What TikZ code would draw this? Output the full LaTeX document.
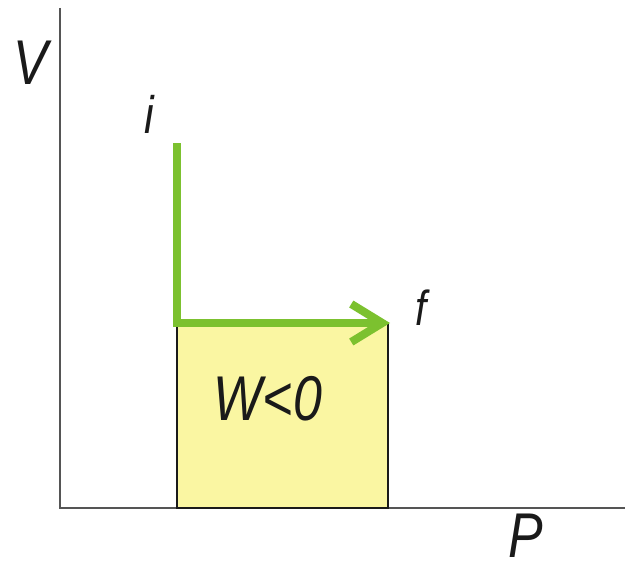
\documentclass[tikz,border=0pt]{standalone}
\usepackage{fontspec}
\setmainfont{Liberation Sans}
\newfontfamily\narrowsf[FakeStretch=0.82]{Liberation Sans}
\usetikzlibrary{positioning,arrows.meta}
\definecolor{path}{HTML}{7CC12F}
\definecolor{work}{HTML}{FAF6A2}
\definecolor{ink}{HTML}{1A1A1A}
\definecolor{axis}{HTML}{555555}
\begin{document}
\begin{tikzpicture}[x=0.02cm,y=0.02cm,font=\narrowsf\itshape]
      \useasboundingbox (0,0) rectangle (625,569);
      % axes
      \coordinate (O) at (60,61);
      \coordinate (Vtop) at (60,561);
      \coordinate (Pend) at (625,61);
      \draw[draw=axis,line width=1.1pt] (Vtop) -- (O) -- (Pend);
      % states
      \coordinate (i) at (177,426);
      \coordinate (c) at (177,246);
      \coordinate (f) at (390,246);
      \coordinate (b) at (177,61);
      % area under the path
      \fill[work] (b) rectangle (388,246);
      \draw[draw=ink,line width=0.7pt] (b) rectangle (388,246);
      \node[text=ink,font=\fontsize{36}{40}\narrowsf\itshape] (W) at (268,170) {W<0};
      \draw[draw=path,line width=4.6pt,line join=miter,
        -{Straight Barb[length=0.62cm,width=0.76cm]}] (i) -- (c) -- (f);
      % labels
      \node[anchor=base,text=ink,font=\fontsize{36}{40}\narrowsf\itshape] (Vlab) at (31,484) {V};
      \node[anchor=base,text=ink,font=\fontsize{36}{40}\narrowsf\itshape] (Plab) at (526,12) {P};
      \node[anchor=base,text=ink,font=\fontsize{30}{34}\narrowsf\itshape] (ilab) at (149,436) {i};
      \node[anchor=base,text=ink,font=\fontsize{28}{32}\narrowsf\itshape] (flab) at (421,244) {f};
    \end{tikzpicture}
\end{document}
